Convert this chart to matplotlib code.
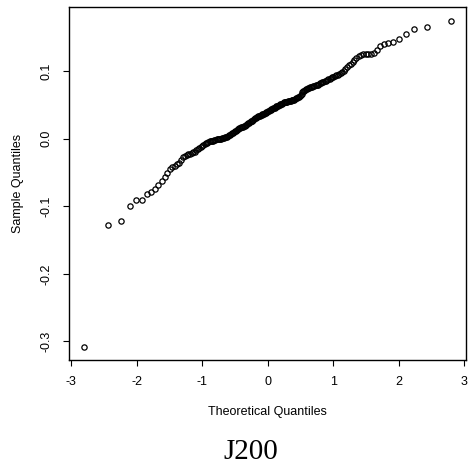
import matplotlib
matplotlib.use('Agg')
import matplotlib.pyplot as plt
import numpy as np
from statistics import NormalDist

# Sorted sample values (n = 200)
sample_quantiles = [
    -0.308, -0.127, -0.121, -0.099, -0.091, -0.090, -0.082, -0.079, -0.074, -0.069,
    -0.063, -0.057, -0.051, -0.045, -0.042, -0.040, -0.038, -0.036, -0.031, -0.027,
    -0.025, -0.024, -0.023, -0.022, -0.021, -0.020, -0.019, -0.017, -0.015, -0.013,
    -0.012, -0.011, -0.009, -0.008, -0.007, -0.006, -0.005, -0.004, -0.004, -0.003,
    -0.003, -0.002, -0.002, -0.001, -0.001, 0.000, 0.000, 0.000, 0.001, 0.001,
    0.001, 0.002, 0.002, 0.003, 0.004, 0.005, 0.006, 0.007, 0.008, 0.009,
    0.010, 0.011, 0.012, 0.013, 0.014, 0.015, 0.016, 0.016, 0.017, 0.018,
    0.018, 0.019, 0.019, 0.020, 0.021, 0.022, 0.023, 0.024, 0.025, 0.026,
    0.027, 0.027, 0.028, 0.029, 0.030, 0.031, 0.032, 0.032, 0.033, 0.034,
    0.034, 0.035, 0.035, 0.036, 0.037, 0.037, 0.038, 0.038, 0.039, 0.040,
    0.041, 0.041, 0.042, 0.043, 0.044, 0.044, 0.045, 0.046, 0.046, 0.047,
    0.048, 0.048, 0.049, 0.050, 0.050, 0.051, 0.052, 0.052, 0.053, 0.054,
    0.054, 0.055, 0.055, 0.055, 0.056, 0.056, 0.056, 0.056, 0.057, 0.057,
    0.057, 0.058, 0.059, 0.060, 0.061, 0.062, 0.062, 0.063, 0.065, 0.067,
    0.069, 0.070, 0.071, 0.072, 0.073, 0.074, 0.075, 0.075, 0.076, 0.077,
    0.077, 0.078, 0.078, 0.079, 0.079, 0.080, 0.081, 0.082, 0.083, 0.084,
    0.084, 0.085, 0.086, 0.087, 0.088, 0.089, 0.090, 0.091, 0.092, 0.093,
    0.094, 0.095, 0.096, 0.097, 0.099, 0.101, 0.103, 0.106, 0.109, 0.111,
    0.114, 0.117, 0.120, 0.122, 0.124, 0.125, 0.126, 0.126, 0.126, 0.127,
    0.131, 0.137, 0.141, 0.142, 0.143, 0.148, 0.155, 0.162, 0.165, 0.175,
]

xticks = [-3, -2, -1, 0, 1, 2, 3]
xtick_labels = ['-3', '-2', '-1', '0', '1', '2', '3']
yticks = [-0.3, -0.2, -0.1, 0.0, 0.1]
ytick_labels = ['-0.3', '-0.2', '-0.1', '0.0', '0.1']

# Theoretical quantiles as R's qqnorm computes them (ppoints)
n = len(sample_quantiles)
nd = NormalDist()
theoretical = [nd.inv_cdf((i - 0.5) / n) for i in range(1, n + 1)]

plt.rcParams['font.family'] = ['Liberation Sans', 'DejaVu Sans']
plt.rcParams['axes.unicode_minus'] = False

fig = plt.figure(figsize=(4.68, 4.68), dpi=100)
ax = fig.add_axes([0.148, 0.231, 0.848, 0.753])

ax.plot(theoretical, sample_quantiles, linestyle='none', marker='o',
        markersize=3.8, markerfacecolor='none', markeredgecolor='black',
        markeredgewidth=0.9)

ax.margins(x=0.04, y=0.04)

ax.set_xticks(xticks)
ax.set_xticklabels(xtick_labels)
ax.set_yticks(yticks)
ax.set_yticklabels(ytick_labels, rotation=90, va='center')
ax.tick_params(direction='out', length=4.3, width=0.8, pad=7.5, labelsize=9,
               colors='black')

for s in ax.spines.values():
    s.set_linewidth(1.0)

ax.set_xlabel('Theoretical Quantiles', fontsize=9, va='center')
ax.xaxis.set_label_coords(0.5, -0.148)
ax.set_ylabel('Sample Quantiles', fontsize=9, va='center')
ax.yaxis.set_label_coords(-0.129, 0.5)

fig.text(0.536, 1 - 451.7 / 468, 'J200', ha='center', va='center',
         fontsize=21, family='Liberation Serif')

fig.savefig('out.png', dpi=100)
